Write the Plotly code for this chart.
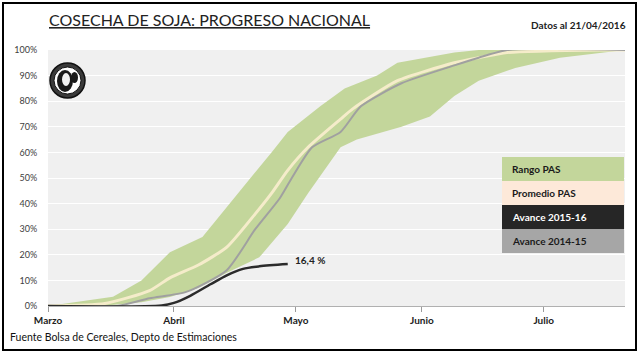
import plotly.graph_objects as go

# ---- data ----
band_upper_dates = ["2016-03-01", "2016-03-17", "2016-03-24", "2016-03-31", "2016-04-08",
                    "2016-04-21", "2016-04-25", "2016-04-29", "2016-05-07", "2016-05-13",
                    "2016-05-21", "2016-05-26", "2016-06-09", "2016-06-15", "2016-07-21"]
band_upper_vals = [0, 3.6, 10, 21, 27, 52, 60, 68, 78, 85, 90, 95, 99, 100, 100]

band_lower_dates = ["2016-03-01", "2016-03-16", "2016-03-24", "2016-03-31", "2016-04-07",
                    "2016-04-14", "2016-04-22", "2016-04-29", "2016-05-04", "2016-05-12",
                    "2016-05-16", "2016-05-27", "2016-06-03", "2016-06-09", "2016-06-15",
                    "2016-06-24", "2016-07-05", "2016-07-19", "2016-07-21"]
band_lower_vals = [0, 0.3, 1.5, 3.5, 7, 13, 19, 32, 44, 62, 65, 70, 74, 82, 88, 93, 97, 99.5, 100]

avg_dates = ["2016-03-01", "2016-03-15", "2016-03-26", "2016-03-31", "2016-04-07",
             "2016-04-14", "2016-04-21", "2016-04-25", "2016-04-29", "2016-05-04",
             "2016-05-12", "2016-05-15", "2016-05-26", "2016-06-09", "2016-06-15",
             "2016-06-22", "2016-07-15", "2016-07-21"]
avg_vals = [0, 1, 6, 11, 16, 23, 36, 44, 53, 62, 73, 77, 88, 95, 97, 99, 100, 100]

prev_dates = ["2016-03-01", "2016-03-18", "2016-03-26", "2016-04-04", "2016-04-14",
              "2016-04-21", "2016-04-27", "2016-04-30", "2016-05-05", "2016-05-12",
              "2016-05-17", "2016-05-27", "2016-06-09", "2016-06-15", "2016-06-22",
              "2016-07-21"]
prev_vals = [0, 0, 3, 5.5, 14, 30, 42, 50, 62, 68, 78, 87, 94, 97, 100, 100]

cur_dates = ["2016-03-01", "2016-03-29", "2016-04-01", "2016-04-05", "2016-04-10",
             "2016-04-14", "2016-04-18", "2016-04-22", "2016-04-29"]
cur_vals = [0, 0.2, 1.2, 4, 8.5, 12, 14.5, 15.5, 16.4]
cur_label = "16,4 %"

month_ticks = ["2016-03-01", "2016-04-01", "2016-05-01", "2016-06-01", "2016-07-01"]
month_names = ["Marzo", "Abril", "Mayo", "Junio", "Julio"]

legend_labels = ["Rango PAS", "Promedio PAS", "Avance 2015-16", "Avance 2014-15"]

title_text = "COSECHA DE SOJA: PROGRESO NACIONAL"
date_text = "Datos al 21/04/2016"
source_text = "Fuente Bolsa de Cereales, Depto de Estimaciones"

# ---- styles ----
GREEN = "#c3d69b"
CREAM = "#f5ecca"
PEACH = "#fde9d9"
GREY = "#a0a0a0"
BLACK = "#2b2b2b"
FONT = "Lato"

fig = go.Figure()
fig.add_trace(go.Scatter(x=band_lower_dates, y=band_lower_vals, mode="lines",
                         line=dict(width=0, color=GREEN), hoverinfo="skip"))
fig.add_trace(go.Scatter(x=band_upper_dates, y=band_upper_vals, mode="lines",
                         line=dict(width=0, color=GREEN), fill="tonexty",
                         fillcolor=GREEN, hoverinfo="skip"))
fig.add_trace(go.Scatter(x=avg_dates, y=avg_vals, mode="lines",
                         line=dict(width=3, color=CREAM, shape="spline", smoothing=0.6)))
fig.add_trace(go.Scatter(x=prev_dates, y=prev_vals, mode="lines",
                         line=dict(width=2, color=GREY, shape="spline", smoothing=0.6)))
fig.add_trace(go.Scatter(x=cur_dates, y=cur_vals, mode="lines",
                         line=dict(width=2.5, color=BLACK, shape="spline", smoothing=0.8)))

fig.add_annotation(x=cur_dates[-1], y=cur_vals[-1], text="<b>" + cur_label + "</b>",
                   showarrow=False, xanchor="left", yanchor="middle", xshift=5, yshift=4,
                   font=dict(family=FONT, size=10, color="#222"))

W, H = 640, 354
L, R, T, B = 48, 15, 50, 48
pw, ph = W - L - R, H - T - B


def px(xp):
    return (xp - L) / pw


def py(yp):
    return (H - B - yp) / ph


# legend boxes
box_colors = [GREEN, PEACH, "#262626", "#a6a6a6"]
text_colors = ["#1a1a1a", "#1a1a1a", "#ffffff", "#1a1a1a"]
tops = [157, 181, 205, 229]
for lab, bc, tc, t in zip(legend_labels, box_colors, text_colors, tops):
    fig.add_shape(type="rect", xref="paper", yref="paper",
                  x0=px(502), x1=px(624), y0=py(t + 24), y1=py(t),
                  fillcolor=bc, line=dict(width=0), layer="above")
    fig.add_annotation(xref="paper", yref="paper", x=px(510), y=py(t + 12),
                       text="<b>" + lab + "</b>", showarrow=False,
                       xanchor="left", yanchor="middle",
                       font=dict(family=FONT, size=10, color=tc))

# outer frame
fig.add_shape(type="rect", xref="paper", yref="paper",
              x0=px(3), x1=px(636), y0=py(350), y1=py(3),
              line=dict(color="#000", width=2), fillcolor="rgba(0,0,0,0)", layer="above")

# logo (seal)
fig.add_shape(type="circle", xref="paper", yref="paper",
              x0=px(50), x1=px(85), y0=py(98), y1=py(63),
              line=dict(color="#111", width=1.5), fillcolor="#3a3a3a", layer="above")
fig.add_shape(type="circle", xref="paper", yref="paper",
              x0=px(54), x1=px(81), y0=py(94), y1=py(67),
              line=dict(color="#111", width=1), fillcolor="#ffffff", layer="above")
fig.add_shape(type="circle", xref="paper", yref="paper",
              x0=px(57), x1=px(73), y0=py(92), y1=py(70),
              line=dict(width=0), fillcolor="#1a1a1a", layer="above")
fig.add_shape(type="circle", xref="paper", yref="paper",
              x0=px(62), x1=px(70), y0=py(86), y1=py(73),
              line=dict(width=0), fillcolor="#f2f2f2", layer="above")
fig.add_shape(type="circle", xref="paper", yref="paper",
              x0=px(71), x1=px(78), y0=py(83), y1=py(72),
              line=dict(width=0), fillcolor="#1a1a1a", layer="above")

# title & texts
fig.add_annotation(xref="paper", yref="paper", x=px(47), y=py(19), text=title_text,
                   showarrow=False, xanchor="left", yanchor="middle",
                   font=dict(family=FONT, size=16, color="#222", lineposition="under"))
fig.add_annotation(xref="paper", yref="paper", x=px(628), y=py(25), text="<b>" + date_text + "</b>",
                   showarrow=False, xanchor="right", yanchor="middle",
                   font=dict(family=FONT, size=10, color="#222"))
fig.add_annotation(xref="paper", yref="paper", x=px(8), y=py(337), text=source_text,
                   showarrow=False, xanchor="left", yanchor="middle",
                   font=dict(family=FONT, size=10.5, color="#111"))

fig.update_layout(
    width=W, height=H,
    margin=dict(l=L, r=R, t=T, b=B, pad=0),
    paper_bgcolor="#ffffff",
    plot_bgcolor="#f0f0f0",
    showlegend=False,
    font=dict(family=FONT),
)
fig.update_xaxes(type="date", range=["2016-03-01", "2016-07-21"],
                 tickvals=month_ticks, ticktext=["<b>" + m + "</b>" for m in month_names],
                 tickfont=dict(family=FONT, size=10, color="#222"),
                 ticks="outside", ticklen=5, tickcolor="#9a9a9a",
                 showgrid=False, showline=True, linecolor="#b0b0b0", linewidth=1,
                 zeroline=False)
fig.update_yaxes(range=[0, 100], dtick=10, ticksuffix="%",
                 tickfont=dict(family=FONT, size=9, color="#404040"),
                 ticks="outside", ticklen=8, tickcolor="rgba(0,0,0,0)",
                 showgrid=True, gridcolor="#ffffff", gridwidth=1,
                 zeroline=False, showline=False)

fig.write_html("out.html")
